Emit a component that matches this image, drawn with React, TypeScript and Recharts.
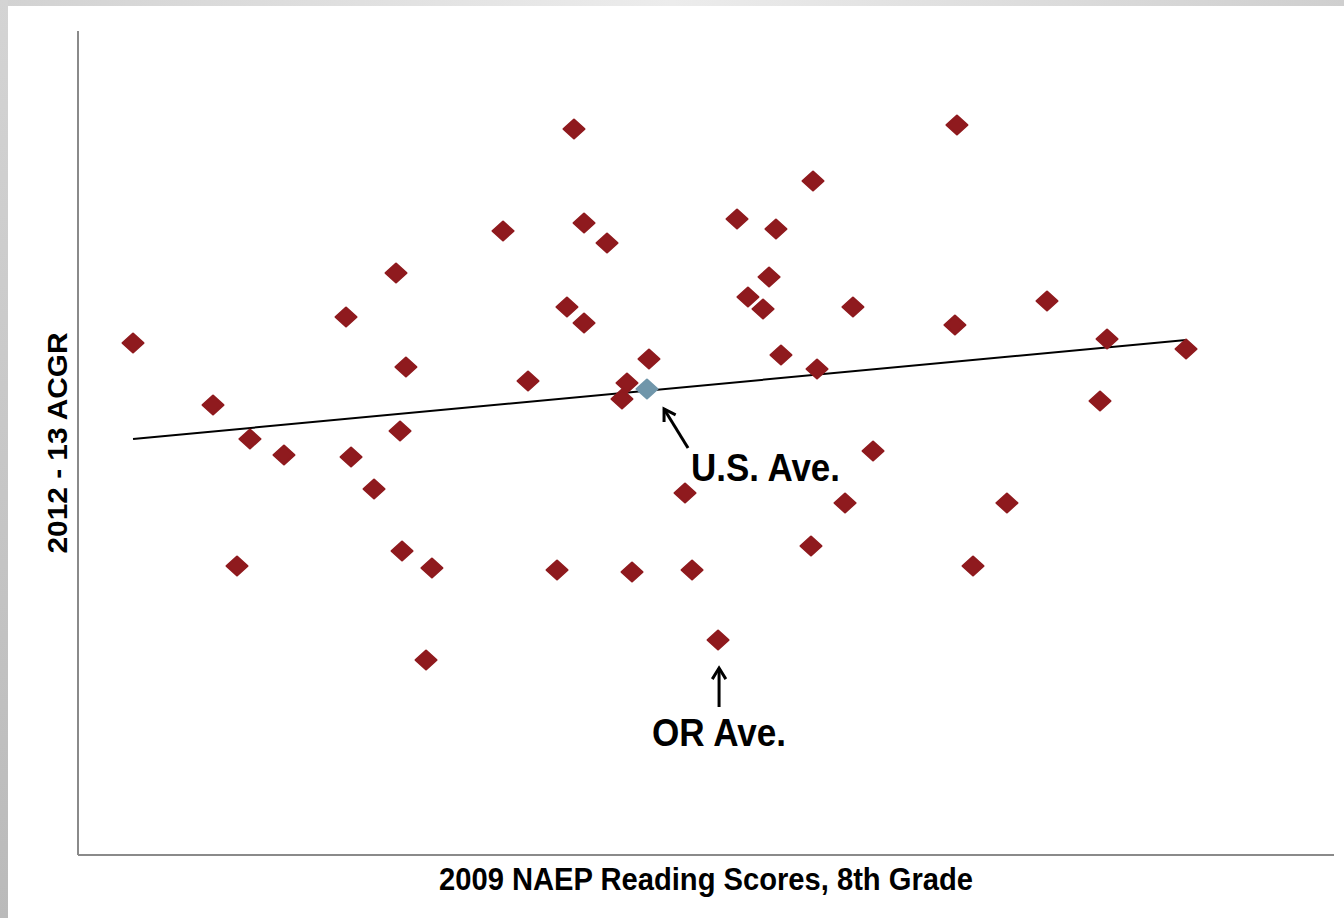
import React from 'react';
import {
  ScatterChart,
  Scatter,
  XAxis,
  YAxis,
  ReferenceLine,
  ReferenceDot,
} from 'recharts';

// Axis units are relative plot positions (0-100), no tick labels in the source
const stateX = [
  4.38, 10.75, 13.69, 12.66, 16.4, 21.34, 21.74, 23.57, 25.32, 26.11,
  25.64, 25.8, 28.18, 27.71, 33.84, 35.83, 38.14, 39.49, 40.29, 38.93,
  40.29, 42.12, 43.71, 43.31, 45.46, 44.11, 48.33, 48.89, 50.96, 52.47,
  55.57, 55.02, 53.34, 54.54, 55.97, 58.52, 58.84, 58.36, 61.7, 63.3,
  61.07, 69.98, 69.82, 71.26, 73.96, 77.15, 81.93, 81.37, 88.22,
];
const stateY = [
  62.14, 54.61, 50.49, 35.07, 48.54, 65.29, 48.3, 44.42, 70.63, 59.22,
  51.46, 36.89, 34.83, 23.67, 75.73, 57.52, 34.59, 88.11, 76.7, 66.5,
  64.56, 74.27, 57.28, 55.34, 60.19, 34.34, 43.93, 34.59, 26.09, 77.18,
  75.97, 70.15, 67.72, 66.26, 60.68, 81.8, 58.98, 37.5, 66.5, 49.03,
  42.72, 88.59, 64.32, 35.07, 42.72, 67.23, 62.62, 55.1, 61.41,
];
const usAverage = { x: 45.3, y: 56.55 };
const trendStart = { x: 4.38, y: 50.49 };
const trendEnd = { x: 88.22, y: 62.5 };

const usArrow = [{ x: 48.57, y: 49.39 }, { x: 46.66, y: 54.13 }];
const usLabelPos = { x: 54.74, y: 45.39 };
const orArrow = [{ x: 51.04, y: 17.96 }, { x: 51.04, y: 22.69 }];
const orLabelPos = { x: 51.04, y: 13.23 };

const stateData = stateX.map((x, i) => ({ x, y: stateY[i] }));

const RED = '#8f1a1e';
const BLUE = '#7096aa';
const AXIS = '#8a8a8a';
const FONT = '"Liberation Sans", Arial, sans-serif';

function diamond(color: string) {
  return (props: any) => {
    const { cx, cy } = props;
    const w = 10.5;
    const h = 9.5;
    return (
      <path
        d={`M${cx},${cy - h} L${cx + w},${cy} L${cx},${cy + h} L${cx - w},${cy} Z`}
        fill={color}
        stroke={color}
        strokeWidth={2}
        strokeLinejoin="round"
      />
    );
  };
}

function arrowShape(props: any) {
  const { x1, y1, x2, y2 } = props;
  // tail at (x1,y1), head at (x2,y2)
  const ang = Math.atan2(y2 - y1, x2 - x1);
  const len = 13;
  const spread = 0.55;
  const ax = x2 - len * Math.cos(ang - spread);
  const ay = y2 - len * Math.sin(ang - spread);
  const bx = x2 - len * Math.cos(ang + spread);
  const by = y2 - len * Math.sin(ang + spread);
  return (
    <g stroke="#000" strokeWidth={3} fill="none" strokeLinecap="butt">
      <line x1={x1} y1={y1} x2={x2} y2={y2} />
      <polyline points={`${ax},${ay} ${x2},${y2} ${bx},${by}`} strokeLinejoin="miter" />
    </g>
  );
}

function textShape(label: string, width: number) {
  return (props: any) => (
    <text
      x={props.cx}
      y={props.cy}
      textAnchor="middle"
      fontFamily={FONT}
      fontWeight="bold"
      fontSize={38}
      fill="#000"
      textLength={width}
      lengthAdjust="spacingAndGlyphs"
    >
      {label}
    </text>
  );
}

export default function App() {
  return (
    <div
      style={{
        position: 'absolute',
        left: 0,
        top: 0,
        width: 1344,
        height: 918,
        background: '#fff',
        overflow: 'hidden',
      }}
    >
      {/* slide frame edges */}
      <div
        style={{
          position: 'absolute',
          left: 0,
          top: 0,
          width: 1344,
          height: 6,
          background: 'linear-gradient(to right, #d2d2d2, #ececec 50%, #cfcfcf)',
        }}
      />
      <div
        style={{
          position: 'absolute',
          left: 0,
          top: 0,
          width: 8,
          height: 918,
          background: 'linear-gradient(to bottom, #d4d4d4, #bababa)',
        }}
      />

      <div style={{ position: 'absolute', left: 0, top: 0 }}>
        <ScatterChart
          width={1344}
          height={918}
          margin={{ top: 31, right: 10, bottom: 63, left: 78 }}
        >
          <XAxis
            type="number"
            dataKey="x"
            domain={[0, 100]}
            hide
          />
          <YAxis
            type="number"
            dataKey="y"
            domain={[0, 100]}
            hide
          />
          <ReferenceLine x={0} stroke={AXIS} strokeWidth={2} />
          <ReferenceLine y={0} stroke={AXIS} strokeWidth={2} />
          <ReferenceLine
            segment={[trendStart, trendEnd]}
            stroke="#000"
            strokeWidth={2}
          />
          <Scatter
            data={stateData}
            shape={diamond(RED)}
            isAnimationActive={false}
          />
          <Scatter
            data={[usAverage]}
            shape={diamond(BLUE)}
            isAnimationActive={false}
          />
          <ReferenceLine segment={usArrow} shape={arrowShape} />
          <ReferenceLine segment={orArrow} shape={arrowShape} />
          <ReferenceDot
            x={usLabelPos.x}
            y={usLabelPos.y}
            shape={textShape('U.S. Ave.', 149)}
          />
          <ReferenceDot
            x={orLabelPos.x}
            y={orLabelPos.y}
            shape={textShape('OR Ave.', 134)}
          />
        </ScatterChart>
      </div>

      {/* axis titles */}
      <svg
        width={1344}
        height={60}
        style={{ position: 'absolute', left: 0, top: 855 }}
      >
        <text
          x={706}
          y={35}
          textAnchor="middle"
          fontFamily={FONT}
          fontWeight="bold"
          fontSize={31}
          textLength={534}
          lengthAdjust="spacingAndGlyphs"
        >
          2009 NAEP Reading Scores, 8th Grade
        </text>
      </svg>
      <svg
        width={60}
        height={260}
        style={{ position: 'absolute', left: 30, top: 313 }}
      >
        <text
          transform="translate(37,130) rotate(-90)"
          textAnchor="middle"
          fontFamily={FONT}
          fontWeight="bold"
          fontSize={27}
          textLength={221}
          lengthAdjust="spacingAndGlyphs"
        >
          2012 - 13 ACGR
        </text>
      </svg>
    </div>
  );
}
